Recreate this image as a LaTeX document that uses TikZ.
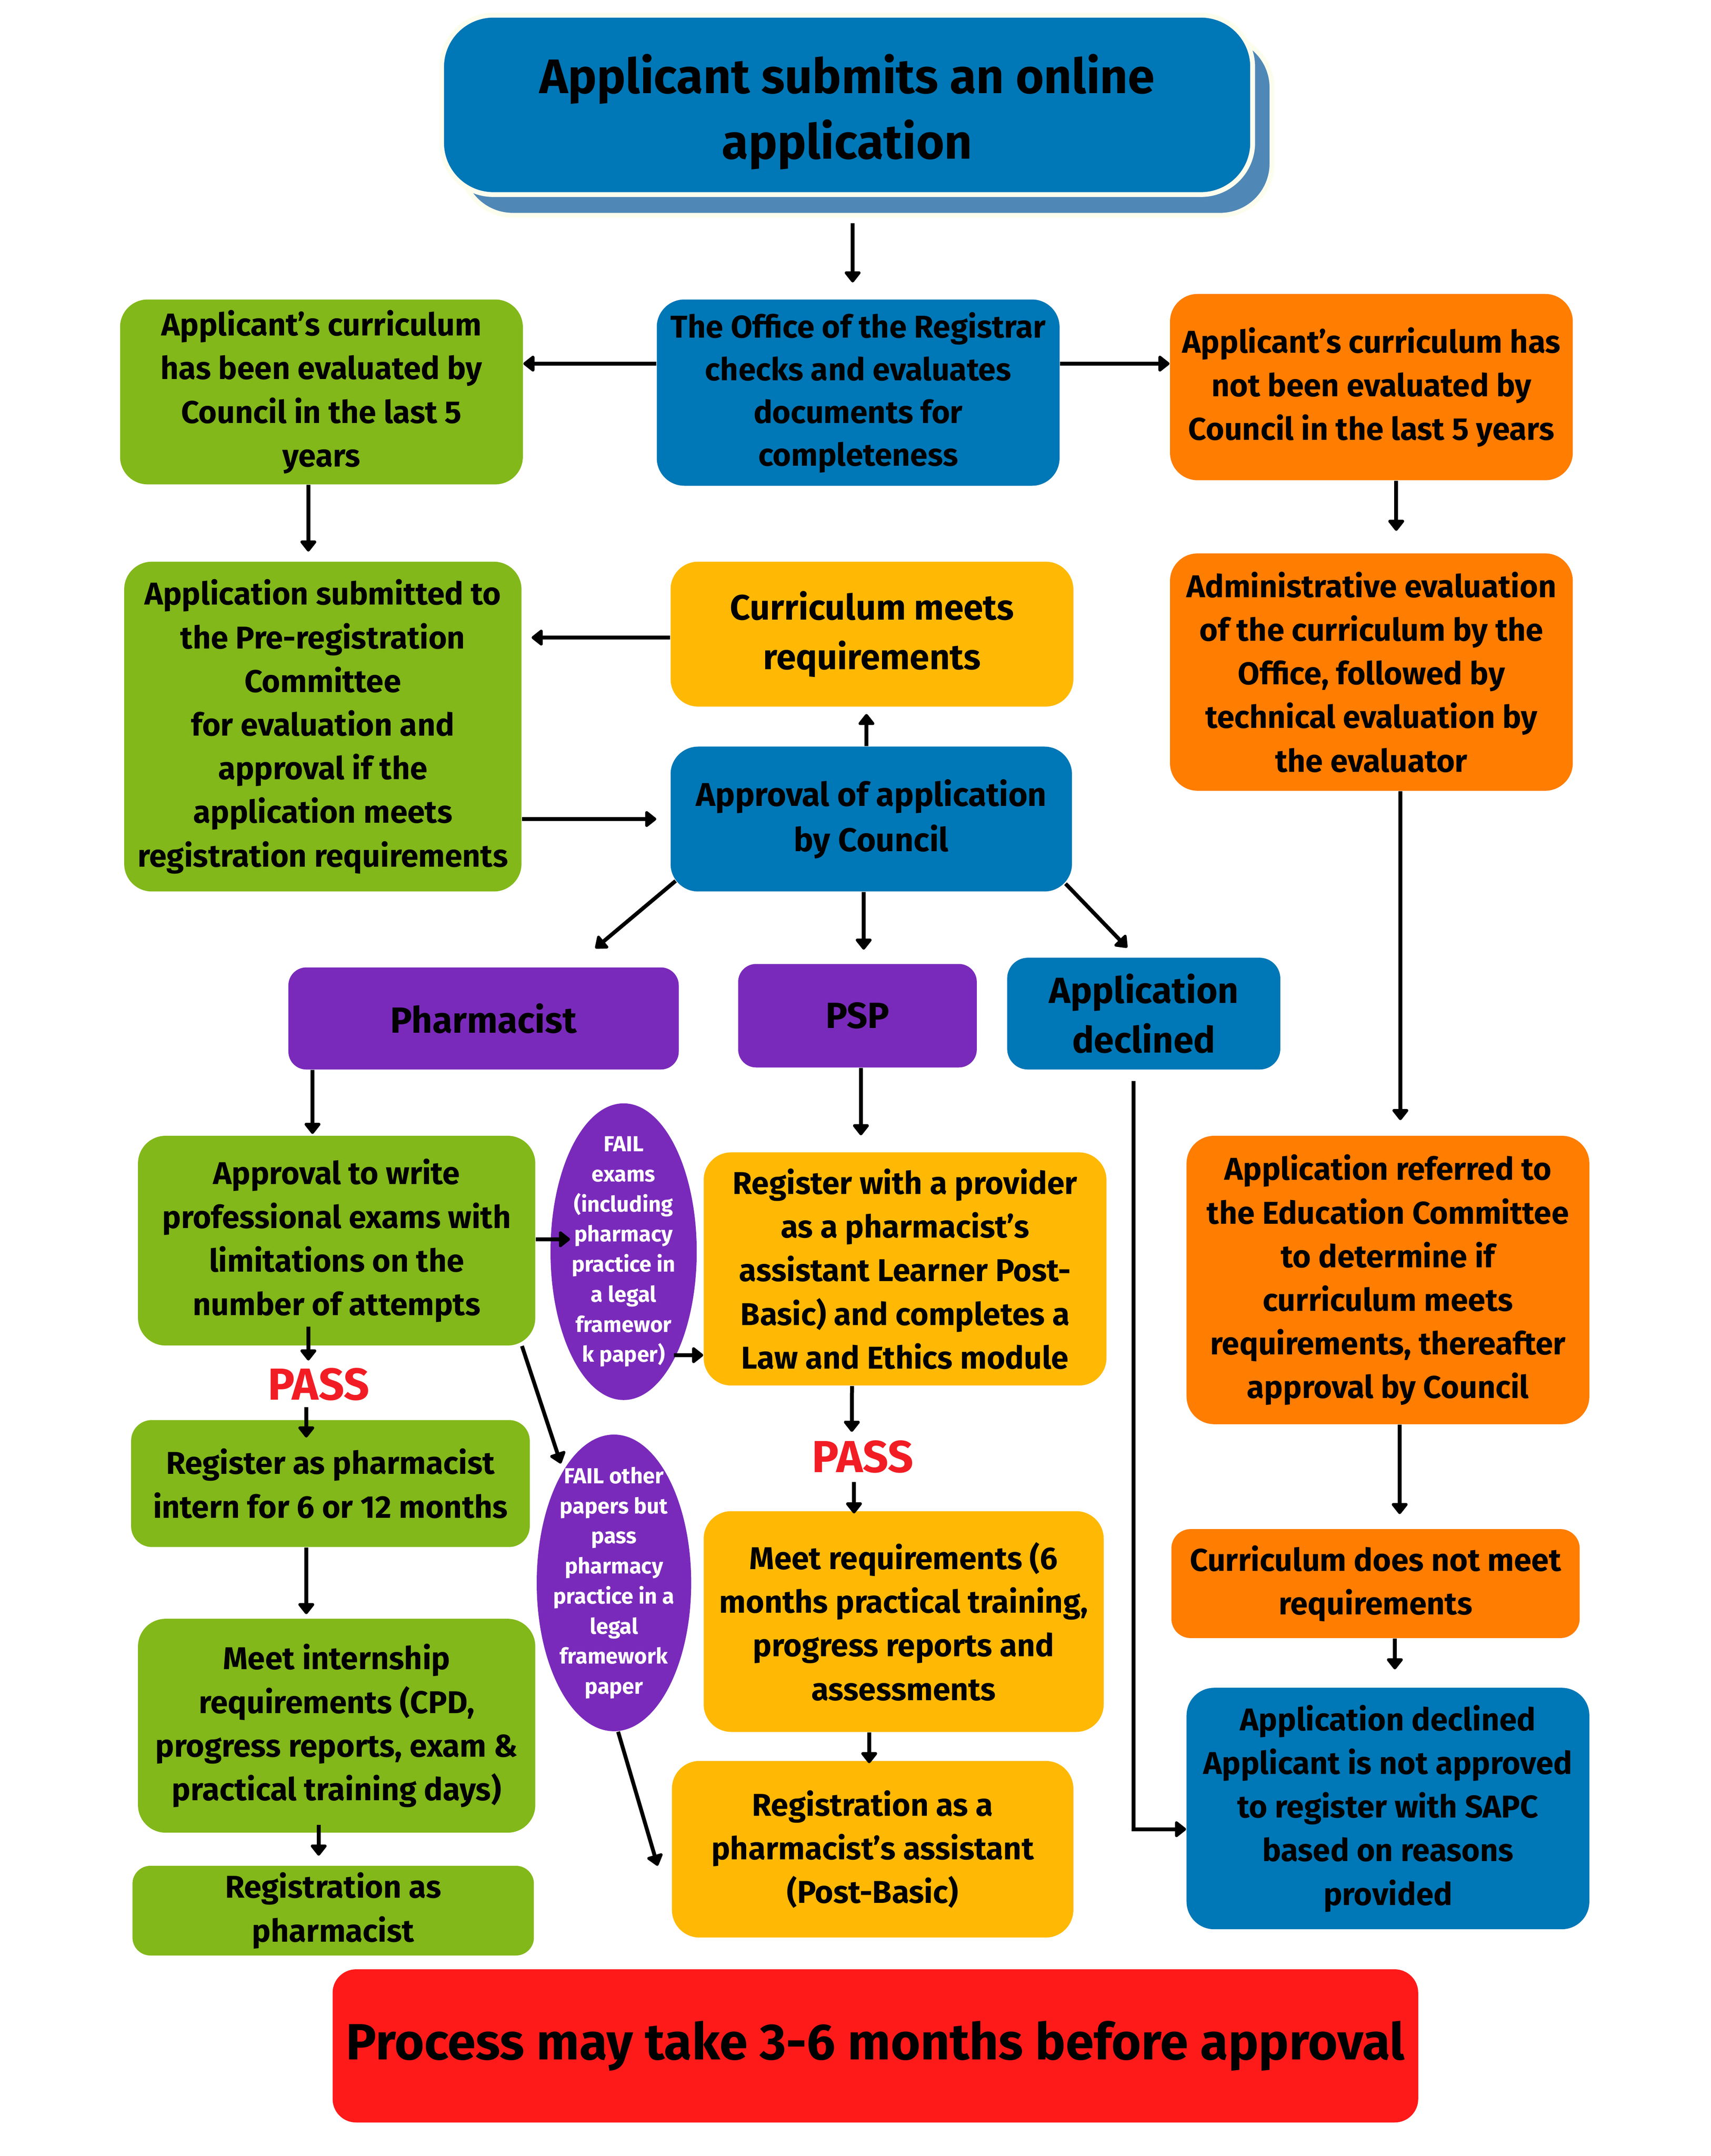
\documentclass[tikz,border=0pt]{standalone}
\usepackage{fontspec}
\setmainfont{Fira Sans}
\usetikzlibrary{arrows.meta,shapes.geometric}

\definecolor{grn}{HTML}{82B81A}
\definecolor{blu}{HTML}{0077B6}
\definecolor{org}{HTML}{FF7D00}
\definecolor{ylw}{HTML}{FFB905}
\definecolor{prp}{HTML}{7A2ABB}
\definecolor{shd}{HTML}{4F88B6}
\definecolor{cream}{HTML}{FDFDEE}
\definecolor{alarm}{HTML}{FF1A1A}
\definecolor{passred}{HTML}{F21D24}

\begin{document}
\begin{tikzpicture}
[x=0.02cm,y=-0.02cm
,box/.style={rounded corners=0.4cm,inner sep=0pt,align=center,minimum width=5.84cm,font=\bfseries\fontsize{13}{18}\selectfont}
,gbox/.style={box,fill=grn}
,bbox/.style={box,fill=blu}
,obox/.style={box,fill=org}
,ybox/.style={box,fill=ylw}
,pbox/.style={box,fill=prp,rounded corners=0.26cm,font=\bfseries\fontsize{15}{20}\selectfont}
,headbox/.style={box,rounded corners=0.75cm,draw=cream,line width=0.07cm,minimum width=11.76cm,minimum height=2.6cm,font=\bfseries\fontsize{20}{27}\selectfont}
,failell/.style={ellipse,fill=prp,inner sep=0pt}
,failtxt/.style={text=white,align=center,inner sep=0pt,font=\bfseries\fontsize{9}{12.4}\selectfont}
,pass/.style={text=passred,inner sep=0pt,font=\bfseries\fontsize{18.5}{20}\selectfont}
,ar/.style={line width=1.6pt,arrows={-Triangle[round,length=5pt,width=7.5pt]}}
]
\useasboundingbox (0,0) rectangle (1240,1562.3);

% top
\node[headbox,fill=shd] (appsh) at (628,91) {};
\node[headbox,fill=blu] (app) at (614,76) {\rule{0pt}{22pt}Applicant submits an online\\application};

% first row
\node[gbox,minimum height=2.68cm] (g1) at (233,284) {Applicant’s curriculum\\has been evaluated by\\Council in the last 5\\years};
\node[bbox,minimum height=2.7cm,font=\bfseries\fontsize{13}{17.6}\selectfont] (reg) at (622,284.5) {The Office of the Registrar\\checks and evaluates\\documents for\\completeness};
\node[obox,minimum height=2.7cm] (o1) at (994,280.5) {Applicant’s curriculum has\\not been evaluated by\\Council in the last 5 years};

% second row
\node[gbox,minimum width=5.76cm,minimum height=4.78cm] (g2) at (234,526.5) {Application submitted to\\the Pre-registration\\Committee\\for evaluation and\\approval if the\\application meets\\registration requirements};
\node[ybox,minimum height=2.1cm,font=\bfseries\fontsize{14.6}{20.4}\selectfont] (y1) at (632,459.5) {Curriculum meets\\requirements};
\node[obox,minimum height=3.44cm] (o2) at (994,487) {Administrative evaluation\\of the curriculum by the\\Office, followed by\\technical evaluation by\\the evaluator};
\node[bbox,minimum width=5.82cm,minimum height=2.1cm,font=\bfseries\fontsize{13.6}{18.7}\selectfont] (appr) at (631.5,593.5) {Approval of application\\by Council};

% routes
\node[pbox,minimum width=5.66cm,minimum height=1.48cm] (pharm) at (350.5,738) {Pharmacist};
\node[pbox,minimum width=3.46cm,minimum height=1.5cm] (psp) at (621.5,736) {PSP};
\node[bbox,rounded corners=0.3cm,minimum width=3.96cm,minimum height=1.62cm,font=\bfseries\fontsize{15}{20.4}\selectfont] (decl) at (829,734.5) {Application\\declined};

% pharmacist branch
\node[gbox,minimum width=5.76cm,minimum height=3.04cm] (g3) at (244,899) {Approval to write\\professional exams with\\limitations on the\\number of attempts};
\node[pass] (pass1) at (231,1003) {PASS};
\node[gbox,minimum width=5.78cm,minimum height=1.84cm,rounded corners=0.3cm] (g4) at (239.5,1075) {Register as pharmacist\\intern for 6 or 12 months};
\node[gbox,minimum width=5.76cm,minimum height=3.1cm] (g5) at (244,1250.5) {Meet internship\\requirements (CPD,\\progress reports, exam \&\\practical training days)};
\node[gbox,minimum width=5.82cm,minimum height=1.3cm,rounded corners=0.26cm] (g6) at (241.5,1384.5) {Registration as\\pharmacist};

% fail ellipses
\node[failell,minimum width=2.12cm,minimum height=4.3cm] (e1) at (452,907) {};
\node[failtxt] at (e1) {FAIL\\exams\\(including\\pharmacy\\practice in\\a legal\\framewor\\k paper)};
\node[failell,minimum width=2.24cm,minimum height=4.3cm] (e2) at (445,1147) {};
\node[failtxt] at (e2) {FAIL other\\papers but\\pass\\pharmacy\\practice in a\\legal\\framework\\paper};

% PSP branch
\node[ybox,minimum height=3.38cm] (y2) at (656,919.5) {Register with a provider\\as a pharmacist’s\\assistant Learner Post-\\Basic) and completes a\\Law and Ethics module};
\node[pass] (pass2) at (625.4,1055.7) {PASS};
\node[ybox,minimum width=5.8cm,minimum height=3.2cm] (y3) at (655,1175) {Meet requirements (6\\months practical training,\\progress reports and\\assessments};
\node[ybox,minimum width=5.82cm,minimum height=2.56cm] (y4) at (632.5,1340) {Registration as a\\pharmacist’s assistant\\(Post-Basic)};

% right branch
\node[obox,minimum height=4.18cm] (o3) at (1006,927.5) {Application referred to\\the Education Committee\\to determine if\\curriculum meets\\requirements, thereafter\\approval by Council};
\node[obox,minimum width=5.92cm,minimum height=1.58cm,rounded corners=0.28cm] (o4) at (997,1147.5) {Curriculum does not meet\\requirements};
\node[bbox,minimum height=3.5cm] (decl2) at (1006,1310.5) {Application declined\\Applicant is not approved\\to register with SAPC\\based on reasons\\provided};

% footer
\node[box,fill=alarm,rounded corners=0.34cm,minimum width=15.74cm,minimum height=2.22cm,font=\bfseries\fontsize{21}{26}\selectfont] (note) at (634.5,1482.5) {Process may take 3-6 months before approval};

% connectors
\draw[ar] ([xshift=0.08cm,yshift=-0.38cm]app.south) -- ([xshift=-0.08cm,yshift=0.24cm]reg.north);
\draw[ar] ([yshift=0.42cm]reg.west) -- ([yshift=0.41cm]g1.east);
\draw[ar] ([yshift=0.42cm]reg.east) -- ([yshift=0.34cm]o1.west);
\draw[ar] ([xshift=-0.19cm]g1.south) -- ([xshift=-0.21cm,yshift=0.14cm]g2.north);
\draw[ar] ([xshift=0.36cm]o1.south) -- ([xshift=0.36cm,yshift=0.32cm]o2.north);
\draw[ar] ([yshift=-0.05cm]y1.west) -- ([xshift=0.14cm,yshift=1.29cm]g2.east);
\draw[ar] ([yshift=-1.34cm]g2.east) -- ([xshift=-0.2cm]appr.west);
\draw[ar] ([xshift=-0.07cm]appr.north) -- ([xshift=-0.08cm,yshift=-0.1cm]y1.south);
\draw[ar] ([xshift=0.08cm,yshift=0.16cm]appr.south west) -- ([xshift=1.62cm,yshift=0.27cm]pharm.north);
\draw[ar] ([xshift=-0.11cm]appr.south) -- ([xshift=0.09cm,yshift=0.2cm]psp.north);
\draw[ar] ([xshift=-0.1cm,yshift=0.12cm]appr.south east) -- ([xshift=-0.24cm,yshift=0.14cm]decl.north);
\draw[ar] ([xshift=0.42cm]o2.south) -- ([xshift=0.18cm,yshift=0.22cm]o3.north);

\draw[ar] ([xshift=-2.48cm]pharm.south) -- ([xshift=-0.35cm,yshift=0.02cm]g3.north);
\draw[ar] ([yshift=0.02cm]g3.east) -- ([xshift=0.29cm,yshift=0.18cm]e1.west);
\draw[ar] ([xshift=0.73cm,yshift=-1.5cm]e1.center) -- ([yshift=-1.25cm]y2.west);
\draw[ar] ([xshift=-0.41cm,yshift=0.28cm]g3.south) -- ([xshift=-0.15cm,yshift=0.1cm]pass1.north);
\draw[ar] ([xshift=-0.18cm,yshift=-0.09cm]pass1.south) -- ([xshift=-0.35cm,yshift=-0.26cm]g4.north);
\draw[ar] ([xshift=-0.2cm]g3.south east) -- ([xshift=-0.77cm,yshift=1.73cm]e2.center);
\draw[ar] ([xshift=0.06cm]e2.south) -- ([xshift=-0.2cm,yshift=-0.24cm]y4.west);
\draw[ar] ([xshift=-0.35cm]g4.south) -- ([xshift=-0.44cm,yshift=0.06cm]g5.north);
\draw[ar] ([xshift=-0.26cm,yshift=0.12cm]g5.south) -- ([xshift=-0.21cm,yshift=0.14cm]g6.north);

\draw[ar] ([xshift=0.05cm]psp.south) -- ([xshift=-0.64cm,yshift=0.24cm]y2.north);
\draw[ar] ([xshift=-0.77cm]y2.south) -- ([xshift=-0.16cm,yshift=0.12cm]pass2.north);
\draw[ar] ([xshift=-0.13cm,yshift=-0.12cm]pass2.south) -- ([xshift=-0.72cm,yshift=-0.04cm]y3.north);
\draw[ar] ([xshift=-0.5cm]y3.south) -- ([xshift=-0.05cm,yshift=-0.04cm]y4.north);

\draw[ar] ([xshift=0.17cm]o3.south) -- ([xshift=0.35cm,yshift=0.21cm]o4.north);
\draw[ar] ([xshift=0.28cm]o4.south) -- ([xshift=0.1cm,yshift=0.26cm]decl2.north);
\draw[ar] ([xshift=-0.15cm,yshift=-0.16cm]decl.south) |- ([yshift=-0.3cm]decl2.west);
\end{tikzpicture}
\end{document}
